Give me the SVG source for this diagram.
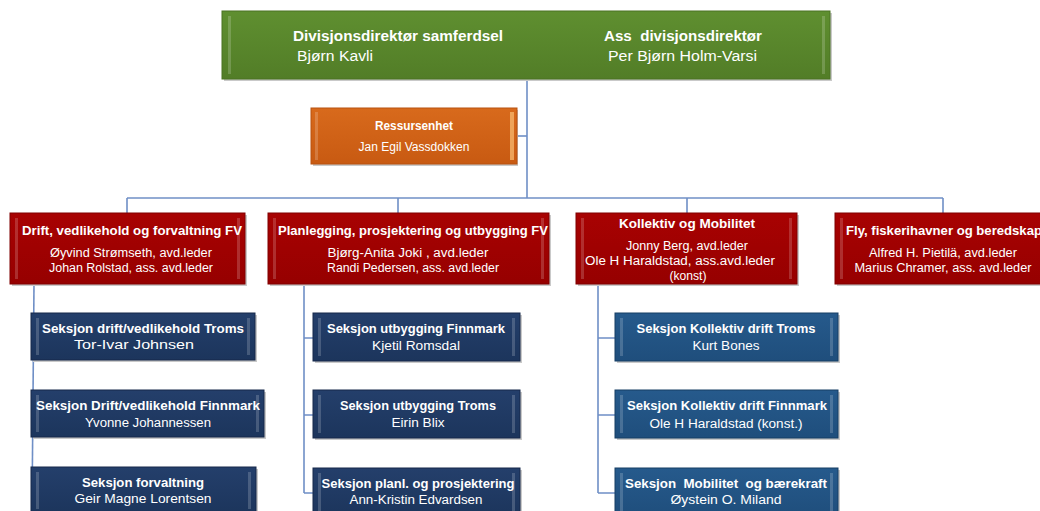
<svg xmlns="http://www.w3.org/2000/svg" width="1040" height="511" viewBox="0 0 1040 511">
<defs>
<linearGradient id="gGreen" x1="0" y1="0" x2="0" y2="1"><stop offset="0" stop-color="#5f8f30"/><stop offset="1" stop-color="#527d27"/></linearGradient>
<linearGradient id="gOrange" x1="0" y1="0" x2="0" y2="1"><stop offset="0" stop-color="#d86a1c"/><stop offset="1" stop-color="#c85a12"/></linearGradient>
<linearGradient id="gRed" x1="0" y1="0" x2="0" y2="1"><stop offset="0" stop-color="#a80202"/><stop offset="1" stop-color="#960000"/></linearGradient>
<linearGradient id="gNavy" x1="0" y1="0" x2="0" y2="1"><stop offset="0" stop-color="#243f6b"/><stop offset="1" stop-color="#1c355c"/></linearGradient>
<linearGradient id="gBlue" x1="0" y1="0" x2="0" y2="1"><stop offset="0" stop-color="#265a8c"/><stop offset="1" stop-color="#1f4e7c"/></linearGradient>
</defs>
<style>
text{font-family:"Liberation Sans",Arial,sans-serif;fill:#ffffff;}
.b{font-weight:bold;}
.c{text-anchor:middle;}
.t{font-size:14px;}
.s{font-size:12.5px;}
.con{stroke:#6f8fc6;stroke-width:1.6;fill:none;}
.sh{fill:#c9c9c9;}
.edge{fill:#ffffff;opacity:0.18;}
.green{fill:url(#gGreen);stroke:#4a7322;stroke-width:1;}
.orange{fill:url(#gOrange);stroke:#b85210;stroke-width:1;}
.red{fill:url(#gRed);stroke:#800000;stroke-width:1;}
.navy{fill:url(#gNavy);stroke:#16294a;stroke-width:1;}
.blue{fill:url(#gBlue);stroke:#173e64;stroke-width:1;}
</style>

<g id="connectors">
<path class="con" d="M527,80 V198"/>
<path class="con" d="M517,136 H527"/>
<path class="con" d="M127,198 H943"/>
<path class="con" d="M127,198 V213 M398,198 V213 M687,198 V213 M943,198 V213"/>
<path class="con" d="M34,284 L32,511"/>
<path class="con" d="M304,284 V493 M304,338 H313 M304,415 H313 M304,493 H313"/>
<path class="con" d="M598,284 V493 M598,338 H615 M598,415 H615 M598,493 H615"/>
</g>

<g id="top">
<rect class="sh" x="224" y="13" width="608" height="68"/>
<rect class="green" x="222" y="11" width="608" height="68"/>
<rect class="edge" x="228" y="16" width="3" height="58"/>
<rect class="edge" x="822" y="16" width="3" height="58"/>
<text class="b t" x="293" y="41" textLength="210" lengthAdjust="spacingAndGlyphs">Divisjonsdirektør samferdsel</text>
<text class="t" x="297" y="61" textLength="76" lengthAdjust="spacingAndGlyphs">Bjørn Kavli</text>
<text class="b t" x="604" y="41" textLength="158" lengthAdjust="spacingAndGlyphs" xml:space="preserve">Ass  divisjonsdirektør</text>
<text class="t" x="608" y="61" textLength="149" lengthAdjust="spacingAndGlyphs">Per Bjørn Holm-Varsi</text>
</g>

<g id="ressurs">
<rect class="sh" x="313" y="110" width="205" height="56"/>
<rect class="orange" x="311" y="108" width="206" height="56"/>
<rect class="edge" x="315" y="112" width="3" height="48"/>
<rect x="510" y="112" width="4" height="48" fill="#f5b46a" opacity="0.8"/>
<text class="b s c" x="414" y="130" textLength="78" lengthAdjust="spacingAndGlyphs">Ressursenhet</text>
<text class="s c" x="414" y="151" textLength="111" lengthAdjust="spacingAndGlyphs">Jan Egil Vassdokken</text>
</g>

<g id="dept1">
<rect class="sh" x="12" y="215" width="235" height="71"/>
<rect class="red" x="10" y="213" width="235" height="71"/>
<rect class="edge" x="15" y="218" width="3" height="61"/>
<rect class="edge" x="237" y="218" width="3" height="61"/>
<text class="b s c" x="132" y="235" textLength="220" lengthAdjust="spacingAndGlyphs">Drift, vedlikehold og forvaltning FV</text>
<text class="s c" x="131" y="257" textLength="162" lengthAdjust="spacingAndGlyphs">Øyvind Strømseth, avd.leder</text>
<text class="s c" x="131" y="272" textLength="164" lengthAdjust="spacingAndGlyphs">Johan Rolstad, ass. avd.leder</text>
</g>

<g id="dept2">
<rect class="sh" x="270" y="215" width="281" height="71"/>
<rect class="red" x="268" y="213" width="281" height="71"/>
<rect class="edge" x="273" y="218" width="3" height="61"/>
<rect class="edge" x="541" y="218" width="3" height="61"/>
<text class="b s c" x="413" y="235" textLength="270" lengthAdjust="spacingAndGlyphs">Planlegging, prosjektering og utbygging FV</text>
<text class="s c" x="408" y="257" textLength="161" lengthAdjust="spacingAndGlyphs">Bjørg-Anita Joki , avd.leder</text>
<text class="s c" x="413" y="272" textLength="172" lengthAdjust="spacingAndGlyphs">Randi Pedersen, ass. avd.leder</text>
</g>

<g id="dept3">
<rect class="sh" x="578" y="215" width="221" height="71"/>
<rect class="red" x="576" y="213" width="221" height="71"/>
<rect class="edge" x="581" y="218" width="3" height="61"/>
<rect class="edge" x="789" y="218" width="3" height="61"/>
<text class="b s c" x="687" y="228" textLength="136" lengthAdjust="spacingAndGlyphs">Kollektiv og Mobilitet</text>
<text class="s c" x="687" y="250" textLength="122" lengthAdjust="spacingAndGlyphs">Jonny Berg, avd.leder</text>
<text class="s c" x="680" y="265" textLength="190" lengthAdjust="spacingAndGlyphs">Ole H Haraldstad, ass.avd.leder</text>
<text class="s c" x="688" y="280" textLength="37" lengthAdjust="spacingAndGlyphs">(konst)</text>
</g>

<g id="dept4">
<rect class="sh" x="837" y="215" width="210" height="71"/>
<rect class="red" x="835" y="213" width="210" height="71"/>
<rect class="edge" x="840" y="218" width="3" height="61"/>
<text class="b s" x="846" y="235" textLength="196" lengthAdjust="spacingAndGlyphs">Fly, fiskerihavner og beredskap</text>
<text class="s c" x="943" y="257" textLength="148" lengthAdjust="spacingAndGlyphs">Alfred H. Pietilä, avd.leder</text>
<text class="s c" x="943" y="272" textLength="177" lengthAdjust="spacingAndGlyphs">Marius Chramer, ass. avd.leder</text>
</g>

<g id="s1a">
<rect class="sh" x="33" y="315" width="224" height="47"/>
<rect class="navy" x="31" y="313" width="224" height="47"/>
<rect class="edge" x="36" y="318" width="3" height="37"/>
<rect class="edge" x="247" y="318" width="3" height="37"/>
<text class="b s c" x="143" y="333" textLength="202" lengthAdjust="spacingAndGlyphs">Seksjon drift/vedlikehold Troms</text>
<text class="s c" x="134" y="349" textLength="120" lengthAdjust="spacingAndGlyphs">Tor-Ivar Johnsen</text>
</g>
<g id="s1b">
<rect class="sh" x="33" y="392" width="233" height="47"/>
<rect class="navy" x="31" y="390" width="233" height="47"/>
<rect class="edge" x="36" y="395" width="3" height="37"/>
<rect class="edge" x="256" y="395" width="3" height="37"/>
<text class="b s c" x="148" y="410" textLength="224" lengthAdjust="spacingAndGlyphs">Seksjon Drift/vedlikehold Finnmark</text>
<text class="s c" x="148" y="427" textLength="126" lengthAdjust="spacingAndGlyphs">Yvonne Johannessen</text>
</g>
<g id="s1c">
<rect class="sh" x="33" y="469" width="225" height="47"/>
<rect class="navy" x="31" y="467" width="225" height="47"/>
<rect class="edge" x="36" y="472" width="3" height="37"/>
<rect class="edge" x="248" y="472" width="3" height="37"/>
<text class="b s c" x="143" y="487" textLength="122" lengthAdjust="spacingAndGlyphs">Seksjon forvaltning</text>
<text class="s c" x="143" y="503" textLength="137" lengthAdjust="spacingAndGlyphs">Geir Magne Lorentsen</text>
</g>

<g id="s2a">
<rect class="sh" x="315" y="315" width="207" height="48"/>
<rect class="navy" x="313" y="313" width="207" height="48"/>
<rect class="edge" x="318" y="318" width="3" height="38"/>
<rect class="edge" x="512" y="318" width="3" height="38"/>
<text class="b s c" x="416" y="333" textLength="178" lengthAdjust="spacingAndGlyphs">Seksjon utbygging Finnmark</text>
<text class="s c" x="416" y="350" textLength="88" lengthAdjust="spacingAndGlyphs">Kjetil Romsdal</text>
</g>
<g id="s2b">
<rect class="sh" x="315" y="392" width="207" height="48"/>
<rect class="navy" x="313" y="390" width="207" height="48"/>
<rect class="edge" x="318" y="395" width="3" height="38"/>
<rect class="edge" x="512" y="395" width="3" height="38"/>
<text class="b s c" x="418" y="410" textLength="156" lengthAdjust="spacingAndGlyphs">Seksjon utbygging Troms</text>
<text class="s c" x="418" y="427" textLength="53" lengthAdjust="spacingAndGlyphs">Eirin Blix</text>
</g>
<g id="s2c">
<rect class="sh" x="315" y="470" width="207" height="48"/>
<rect class="navy" x="313" y="468" width="207" height="48"/>
<rect class="edge" x="318" y="473" width="3" height="38"/>
<rect class="edge" x="512" y="473" width="3" height="38"/>
<text class="b s c" x="418" y="488" textLength="193" lengthAdjust="spacingAndGlyphs">Seksjon planl. og prosjektering</text>
<text class="s c" x="416" y="504" textLength="133" lengthAdjust="spacingAndGlyphs">Ann-Kristin Edvardsen</text>
</g>

<g id="s3a">
<rect class="sh" x="617" y="315" width="223" height="48"/>
<rect class="blue" x="615" y="313" width="223" height="48"/>
<rect class="edge" x="620" y="318" width="3" height="38"/>
<rect class="edge" x="830" y="318" width="3" height="38"/>
<text class="b s c" x="726" y="333" textLength="179" lengthAdjust="spacingAndGlyphs">Seksjon Kollektiv drift Troms</text>
<text class="s c" x="726" y="350" textLength="67" lengthAdjust="spacingAndGlyphs">Kurt Bones</text>
</g>
<g id="s3b">
<rect class="sh" x="617" y="392" width="223" height="48"/>
<rect class="blue" x="615" y="390" width="223" height="48"/>
<rect class="edge" x="620" y="395" width="3" height="38"/>
<rect class="edge" x="830" y="395" width="3" height="38"/>
<text class="b s c" x="727" y="410" textLength="200" lengthAdjust="spacingAndGlyphs">Seksjon Kollektiv drift Finnmark</text>
<text class="s c" x="726" y="428" textLength="153" lengthAdjust="spacingAndGlyphs">Ole H Haraldstad (konst.)</text>
</g>
<g id="s3c">
<rect class="sh" x="617" y="470" width="223" height="48"/>
<rect class="blue" x="615" y="468" width="223" height="48"/>
<rect class="edge" x="620" y="473" width="3" height="38"/>
<rect class="edge" x="830" y="473" width="3" height="38"/>
<text class="b s c" x="726" y="488" textLength="202" lengthAdjust="spacingAndGlyphs" xml:space="preserve">Seksjon  Mobilitet  og bærekraft</text>
<text class="s c" x="726" y="504" textLength="111" lengthAdjust="spacingAndGlyphs">Øystein O. Miland</text>
</g>
</svg>
